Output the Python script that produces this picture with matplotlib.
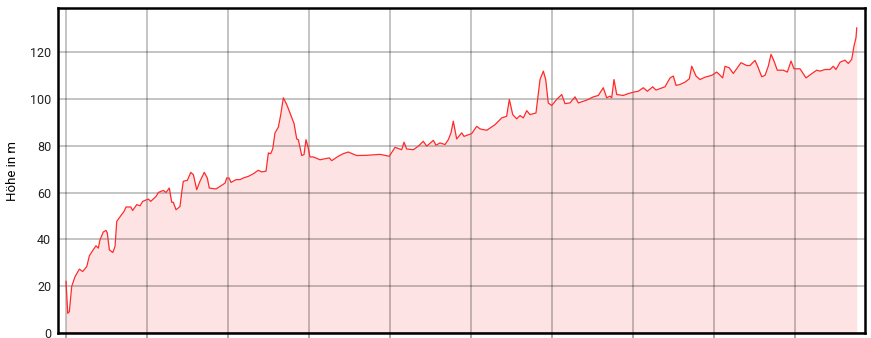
import numpy as np
import matplotlib
matplotlib.use('Agg')
import matplotlib.pyplot as plt

# distance along the route (km) and elevation (m)
dist_km = [0.000, 0.021, 0.041, 0.070, 0.111, 0.164, 0.206, 0.256, 0.288, 0.330,
           0.370, 0.399, 0.420, 0.460, 0.494, 0.510, 0.535, 0.577, 0.605, 0.626,
           0.675, 0.716, 0.741, 0.799, 0.823, 0.873, 0.914, 0.947, 1.016, 1.046,
           1.111, 1.140, 1.201, 1.235, 1.275, 1.305, 1.325, 1.358, 1.407, 1.428,
           1.448, 1.498, 1.540, 1.572, 1.614, 1.654, 1.707, 1.744, 1.769, 1.852,
           1.901, 1.963, 1.984, 2.012, 2.037, 2.099, 2.148, 2.189, 2.251, 2.312,
           2.374, 2.416, 2.469, 2.498, 2.527, 2.552, 2.580, 2.621, 2.651, 2.683,
           2.725, 2.765, 2.815, 2.848, 2.868, 2.910, 2.938, 2.963, 2.991, 3.012,
           3.053, 3.136, 3.251, 3.280, 3.362, 3.423, 3.485, 3.589, 3.712, 3.877,
           3.991, 4.062, 4.144, 4.173, 4.206, 4.288, 4.349, 4.411, 4.453, 4.535,
           4.568, 4.617, 4.679, 4.720, 4.753, 4.781, 4.823, 4.885, 4.914, 5.009,
           5.070, 5.111, 5.194, 5.296, 5.379, 5.440, 5.473, 5.515, 5.564, 5.605,
           5.646, 5.688, 5.728, 5.802, 5.852, 5.893, 5.922, 5.954, 5.996, 6.058,
           6.120, 6.160, 6.222, 6.284, 6.325, 6.428, 6.510, 6.572, 6.633, 6.675,
           6.716, 6.737, 6.765, 6.799, 6.880, 6.942, 7.004, 7.065, 7.127, 7.177,
           7.243, 7.284, 7.395, 7.457, 7.498, 7.531, 7.580, 7.642, 7.695, 7.725,
           7.778, 7.827, 7.889, 7.972, 8.033, 8.065, 8.107, 8.136, 8.189, 8.238,
           8.333, 8.404, 8.444, 8.506, 8.535, 8.589, 8.630, 8.670, 8.704, 8.741,
           8.781, 8.856, 8.905, 8.951, 8.988, 9.062, 9.136, 9.194, 9.268, 9.309,
           9.370, 9.432, 9.473, 9.506, 9.556, 9.617, 9.658, 9.700, 9.728, 9.753,
           9.762]
elev_m = [22.1, 8.4, 9.1, 19.9, 24.1, 27.3, 26.3, 28.4, 33.0, 35.3,
          37.3, 36.3, 39.9, 43.2, 43.9, 42.7, 35.6, 34.4, 37.0, 47.7,
          50.1, 52.0, 53.9, 53.9, 52.4, 54.9, 54.4, 56.3, 57.3, 56.3,
          58.4, 60.1, 61.0, 60.1, 62.0, 55.9, 55.9, 52.7, 54.1, 60.1,
          64.9, 65.3, 68.7, 67.7, 61.3, 64.9, 68.7, 66.3, 62.0, 61.6,
          62.7, 64.1, 66.3, 66.3, 64.4, 65.6, 65.6, 66.3, 67.0, 68.1,
          69.6, 68.9, 69.2, 77.0, 76.7, 78.7, 85.6, 88.0, 93.4, 100.6,
          97.7, 94.1, 89.6, 83.0, 82.7, 75.9, 76.3, 82.7, 79.1, 75.3,
          75.3, 74.1, 74.9, 73.7, 75.6, 76.7, 77.4, 75.9, 76.0, 76.4,
          75.6, 79.4, 78.4, 81.6, 78.7, 78.4, 79.9, 82.0, 79.9, 82.4,
          80.3, 81.3, 80.6, 82.7, 85.6, 90.6, 83.0, 85.6, 84.1, 85.3,
          88.4, 87.3, 86.7, 89.1, 92.0, 92.7, 99.9, 93.4, 91.6, 93.0,
          92.0, 95.1, 93.4, 94.1, 108.4, 112.0, 108.4, 98.4, 97.3, 99.9,
          102.0, 98.1, 98.4, 101.0, 98.4, 99.6, 101.0, 101.6, 104.9, 100.6,
          101.3, 100.6, 108.4, 102.0, 101.6, 102.4, 103.0, 103.4, 104.9, 103.4,
          105.3, 103.9, 105.3, 109.1, 109.9, 105.9, 106.3, 107.3, 108.7, 114.1,
          109.9, 108.4, 109.4, 110.2, 111.6, 110.6, 109.1, 114.1, 113.4, 111.0,
          115.6, 114.4, 114.4, 116.6, 114.4, 109.6, 110.2, 114.1, 119.2, 116.3,
          112.4, 112.4, 111.6, 116.3, 113.0, 113.0, 109.1, 110.6, 112.4, 112.0,
          112.7, 112.7, 114.1, 112.7, 115.8, 116.7, 115.3, 117.0, 122.7, 126.3,
          130.5]

y_ticks = [0, 20, 40, 60, 80, 100, 120]
x_ticks = list(range(10))

plt.rcParams['font.family'] = ['Roboto', 'DejaVu Sans']

fig = plt.figure(figsize=(8.71, 3.38), dpi=100)
ax = fig.add_axes([0.0666, 0.0148, 0.9265, 0.9615])

ax.fill_between(dist_km, elev_m, 0, color='#fde3e3', linewidth=0, zorder=1)
ax.plot(dist_km, elev_m, color='#ff2a2a', linewidth=0.9, zorder=3)

ax.set_xlim(-0.099, 9.864)
ax.set_ylim(0, 139)
ax.set_xticks(x_ticks)
ax.set_xticklabels([])
ax.set_yticks(y_ticks)
ax.grid(True, color='black', alpha=0.25, linewidth=1.3, zorder=2)
ax.set_axisbelow(False)

for s in ax.spines.values():
    s.set_linewidth(1.8)
    s.set_zorder(4)

ax.tick_params(axis='x', direction='out', length=4, width=1.2, color='#999999')
ax.tick_params(axis='y', length=0, labelsize=9, pad=5, labelcolor='#222222')
ax.set_ylabel('Höhe in m', fontsize=9.5, labelpad=8)

fig.savefig('out.png', dpi=100)
